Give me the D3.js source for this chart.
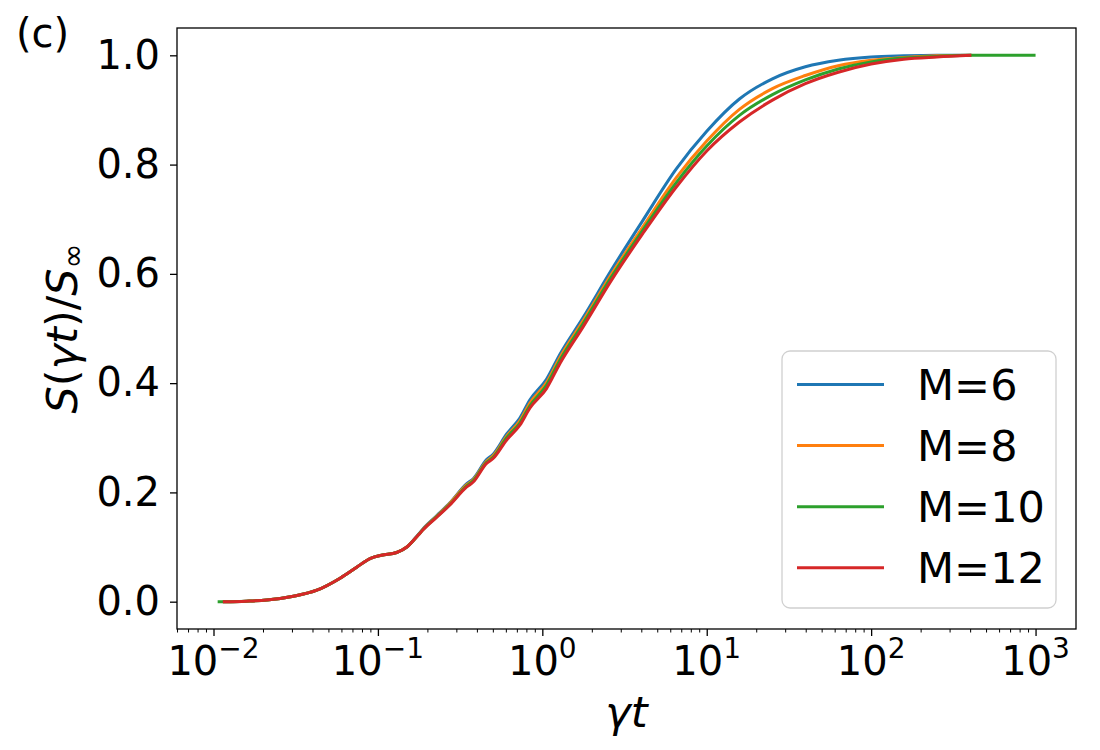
<!DOCTYPE html>
<html>
<head>
<meta charset="utf-8">
<script src="https://cdn.jsdelivr.net/npm/d3@7"></script>
<style>
  body { margin: 0; background: #fff; }
  svg { font-family: "DejaVu Sans", sans-serif; }
</style>
</head>
<body>
<svg id="chart" width="1100" height="750"></svg>
<script>
// gamma*t sample points (shared by all series, null where a series has no value)
var gammaT = [0.0106, 0.0114, 0.0158, 0.0211, 0.0306, 0.0425, 0.0589, 0.0743, 0.0895, 0.105,
    0.130, 0.150, 0.176, 0.189, 0.229, 0.274, 0.347, 0.380, 0.458, 0.502,
    0.607, 0.730, 0.839, 1.06, 1.28, 1.77, 2.63, 4.09, 6.53, 10,
    15.8, 25.1, 39.8, 63.1, 100, 158, 251, 407, 1000];

var m6 = [null, 0.000, 0.001, 0.003, 0.010, 0.021, 0.043, 0.063, 0.079, 0.085,
    0.090, 0.100, 0.123, 0.134, 0.158, 0.181, 0.216, 0.225, 0.260, 0.270,
    0.307, 0.336, 0.369, 0.407, 0.453, 0.520, 0.607, 0.698, 0.792, 0.861,
    0.920, 0.957, 0.979, 0.991, 0.997, 0.999, 1.000, 1.000, null];

var m8 = [null, 0.000, 0.001, 0.003, 0.010, 0.021, 0.043, 0.063, 0.079, 0.085,
    0.090, 0.100, 0.122, 0.133, 0.157, 0.180, 0.214, 0.223, 0.257, 0.267,
    0.303, 0.331, 0.363, 0.401, 0.447, 0.514, 0.599, 0.686, 0.776, 0.843,
    0.901, 0.939, 0.963, 0.981, 0.991, 0.996, 0.999, 1.000, null];

var m10 = [0.000, 0.000, 0.001, 0.003, 0.010, 0.021, 0.043, 0.063, 0.079, 0.085,
    0.090, 0.100, 0.122, 0.1325, 0.156, 0.178, 0.212, 0.221, 0.255, 0.264,
    0.300, 0.327, 0.358, 0.396, 0.442, 0.509, 0.594, 0.680, 0.767, 0.834,
    0.890, 0.928, 0.955, 0.975, 0.988, 0.995, 0.998, 1.000, 1.000];

var m12 = [null, 0.000, 0.001, 0.003, 0.010, 0.021, 0.043, 0.063, 0.079, 0.085,
    0.090, 0.100, 0.122, 0.132, 0.155, 0.177, 0.210, 0.219, 0.253, 0.262,
    0.296, 0.323, 0.354, 0.390, 0.436, 0.503, 0.588, 0.674, 0.759, 0.825,
    0.878, 0.918, 0.948, 0.969, 0.984, 0.993, 0.997, 1.000, null];

var seriesNames = ["M=6", "M=8", "M=10", "M=12"];
var seriesValues = [m6, m8, m10, m12];
var colors = ["#1f77b4", "#ff7f0e", "#2ca02c", "#d62728"];

var xMajor = [1e-2, 1e-1, 1e0, 1e1, 1e2, 1e3];
var xExp = ["\u22122", "\u22121", "0", "1", "2", "3"];
var yTicks = [0, 0.2, 0.4, 0.6, 0.8, 1.0];

function drawChart() {
    var left = 177, right = 1076, top = 28, bottom = 629;

    var svg = d3.select("#chart");

    var x = d3.scaleLog()
        .domain([Math.pow(10, -2.222), Math.pow(10, 3.246)])
        .range([left, right]);
    var y = d3.scaleLinear()
        .domain([-0.05, 1.05])
        .range([bottom, top]);

    // minor ticks 2..9 per decade inside the domain
    var xMinor = [];
    for (var e = -3; e <= 3; e++) {
        for (var k = 2; k <= 9; k++) {
            var v = k * Math.pow(10, e);
            if (v > x.domain()[0] && v < x.domain()[1]) xMinor.push(v);
        }
    }

    let minorAxis = svg.append("g")
        .attr("transform", "translate(0," + bottom + ")")
        .call(d3.axisBottom(x).tickValues(xMinor).tickSize(3.5).tickFormat(""));
    minorAxis.select(".domain").remove();
    minorAxis.selectAll("line").attr("stroke", "#000").attr("stroke-width", 1);

    let majorAxis = svg.append("g")
        .attr("transform", "translate(0," + bottom + ")")
        .call(d3.axisBottom(x).tickValues(xMajor).tickSize(7).tickFormat(""));
    majorAxis.select(".domain").remove();
    majorAxis.selectAll("line").attr("stroke", "#000").attr("stroke-width", 1.3);

    let xLabels = svg.append("g").selectAll(".xlab")
        .data(xMajor)
        .enter()
        .append("text")
        .attr("class", "xlab")
        .attr("x", d => x(d))
        .attr("y", 675)
        .attr("text-anchor", "middle")
        .attr("font-size", 40)
        .attr("fill", "#000");
    xLabels.append("tspan").text("10");
    xLabels.append("tspan")
        .attr("dy", -17)
        .attr("font-size", 28)
        .text((d, i) => xExp[i]);

    let yAxis = svg.append("g")
        .attr("transform", "translate(" + left + ",0)")
        .call(d3.axisLeft(y).tickValues(yTicks).tickSize(7).tickPadding(10)
            .tickFormat(d3.format(".1f")));
    yAxis.select(".domain").remove();
    yAxis.selectAll("line").attr("stroke", "#000").attr("stroke-width", 1.3);
    yAxis.selectAll("text")
        .attr("font-size", 40)
        .attr("font-family", "DejaVu Sans")
        .attr("fill", "#000");

    // curves
    let line = d3.line()
        .defined(d => d[1] != null)
        .x(d => x(d[0]))
        .y(d => y(d[1]))
        .curve(d3.curveMonotoneX);

    svg.append("clipPath").attr("id", "plotclip")
        .append("rect")
        .attr("x", left).attr("y", top)
        .attr("width", right - left).attr("height", bottom - top);

    svg.append("g")
        .attr("clip-path", "url(#plotclip)")
        .selectAll(".curve")
        .data(seriesValues)
        .enter()
        .append("path")
        .attr("class", "curve")
        .attr("d", vals => line(gammaT.map((g, i) => [g, vals[i]])))
        .attr("fill", "none")
        .attr("stroke", (d, i) => colors[i])
        .attr("stroke-width", 3)
        .attr("stroke-linejoin", "round");

    // frame
    svg.append("rect")
        .attr("x", left).attr("y", top)
        .attr("width", right - left).attr("height", bottom - top)
        .attr("fill", "none")
        .attr("stroke", "#000")
        .attr("stroke-width", 1.3);

    // legend
    let legend = svg.append("g");
    legend.append("rect")
        .attr("x", 782).attr("y", 351)
        .attr("width", 274).attr("height", 257)
        .attr("rx", 8)
        .attr("fill", "#fff")
        .attr("fill-opacity", 0.8)
        .attr("stroke", "#d0d0d0")
        .attr("stroke-width", 1.3);
    let rows = legend.selectAll(".row")
        .data(seriesNames)
        .enter()
        .append("g")
        .attr("class", "row")
        .attr("transform", (d, i) => "translate(0," + (384.5 + i * 61.1) + ")");
    rows.append("line")
        .attr("x1", 797).attr("x2", 884)
        .attr("stroke", (d, i) => colors[i])
        .attr("stroke-width", 3);
    rows.append("text")
        .attr("x", 917).attr("y", 15.5)
        .attr("font-size", 43)
        .attr("fill", "#000")
        .text(d => d);

    // axis labels
    svg.append("text")
        .attr("x", (left + right) / 2)
        .attr("y", 727)
        .attr("text-anchor", "middle")
        .attr("font-size", 43)
        .attr("font-style", "italic")
        .text("\u03b3t");

    let yl = svg.append("text")
        .attr("transform", "translate(77," + ((top + bottom) / 2) + ") rotate(-90)")
        .attr("text-anchor", "middle")
        .attr("font-size", 43);
    yl.append("tspan").attr("font-style", "italic").text("S");
    yl.append("tspan").text("(");
    yl.append("tspan").attr("font-style", "italic").text("\u03b3t");
    yl.append("tspan").text(")/");
    yl.append("tspan").attr("font-style", "italic").text("S");
    yl.append("tspan").attr("font-size", 30).attr("dy", 6).text("\u221e");

    // panel tag
    svg.append("text")
        .attr("x", 16).attr("y", 47)
        .attr("font-size", 40)
        .text("(c)");
}

drawChart();
</script>
</body>
</html>
